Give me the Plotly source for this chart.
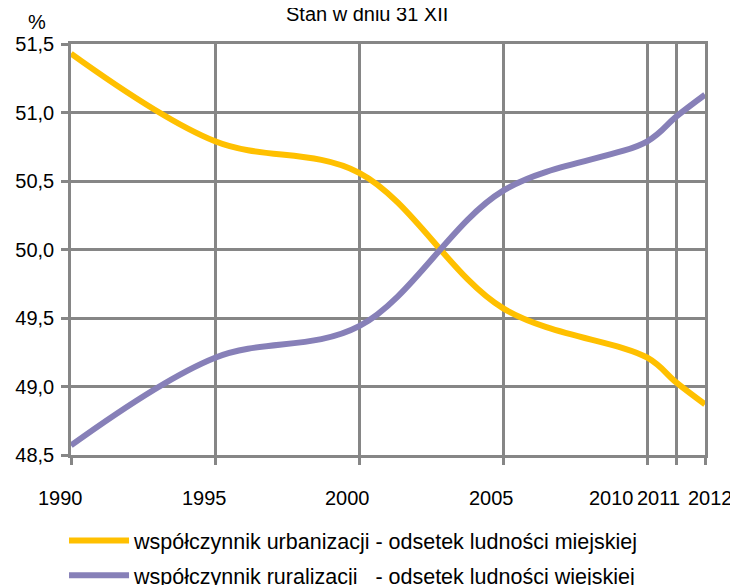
import plotly.graph_objects as go

years = [1990, 1995, 2000, 2005, 2010, 2011, 2012]
year_labels = ["1990", "1995", "2000", "2005", "2010", "2011", "2012"]
urban = [51.43, 50.79, 50.56, 49.57, 49.21, 49.03, 48.87]
rural = [48.57, 49.21, 49.44, 50.43, 50.79, 50.97, 51.13]
y_ticks = [48.5, 49.0, 49.5, 50.0, 50.5, 51.0, 51.5]

name_urban = "współczynnik urbanizacji - odsetek ludności miejskiej"
name_rural = "współczynnik ruralizacji   - odsetek ludności wiejskiej"

# horizontal nudges (px) of the year labels, as laid out in the original
label_shift = [-11, -11, -12, -12, -36, -18, 5]

grid = "#868686"
font = "Liberation Sans, Arial, sans-serif"

fig = go.Figure()
fig.add_trace(go.Scatter(
    x=years, y=urban, name=name_urban, mode="lines", legendgroup="u",
    line=dict(color="#FFC000", width=6, shape="spline", smoothing=1),
))
fig.add_trace(go.Scatter(
    x=years, y=rural, name=name_rural, mode="lines", legendgroup="r",
    line=dict(color="#8780B8", width=6, shape="spline", smoothing=1),
))

axis_common = dict(
    showgrid=True, gridcolor=grid, gridwidth=2.5,
    showline=True, linecolor=grid, linewidth=2.5, mirror=True,
    ticks="outside", ticklen=7, tickwidth=2.5, tickcolor=grid,
    zeroline=False, automargin=False, tickfont=dict(size=20),
)

annotations = [dict(
    text="%", xref="paper", yref="paper", x=-0.054, y=1.0,
    yshift=22, xanchor="center", yanchor="middle", showarrow=False,
    font=dict(size=20),
)]
for yr, lab, dx in zip(years, year_labels, label_shift):
    annotations.append(dict(
        text=lab, x=yr, xref="x", y=0, yref="paper", xshift=dx,
        yshift=-43, xanchor="center", yanchor="middle", showarrow=False,
        font=dict(size=20),
    ))

# the page body adds an 8px offset, so the figure is sized to the visible area
fig.update_layout(
    width=730, height=577,
    margin=dict(l=63, r=33, t=36, b=130, autoexpand=False),
    plot_bgcolor="white", paper_bgcolor="white",
    separators=",.",
    font=dict(family=font, size=20, color="#000000"),
    title=dict(text="Stan w dniu 31 XII", x=0.492, xanchor="center",
               y=1 - 6 / 577, yanchor="middle", font=dict(size=20)),
    showlegend=True,
    legend=dict(
        x=-0.011, y=-0.158, xanchor="left", yanchor="top",
        orientation="v", traceorder="grouped", tracegroupgap=4,
        itemwidth=60,
        font=dict(family=font, size=21.5, color="#000000"),
        bgcolor="rgba(0,0,0,0)",
    ),
    xaxis=dict(
        range=[1990, 2012], tickmode="array", tickvals=years,
        showticklabels=False, **axis_common,
    ),
    yaxis=dict(
        range=[48.5, 51.5], tickmode="array", tickvals=y_ticks,
        tickformat=".1f", ticklabelstandoff=3, **axis_common,
    ),
    annotations=annotations,
)

fig.write_html("out.html")
